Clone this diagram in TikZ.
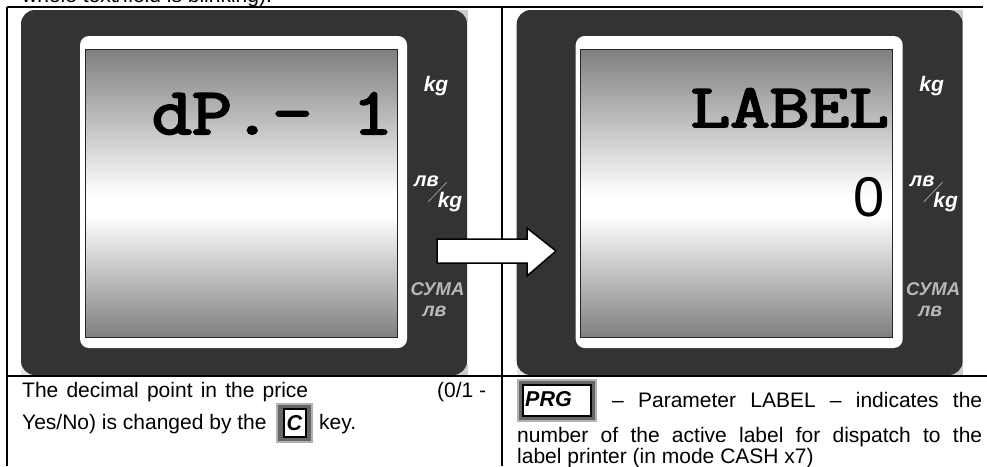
\documentclass[tikz,border=0pt]{standalone}
\usepackage{fontspec}
\setmainfont{Liberation Sans}
\newfontfamily\lcdfont[FakeBold=3]{Latin Modern Mono}
\tikzset{
  x=1pt,y=-1pt,
  rule/.style={line width=2pt,black},
  panel/.style={fill=black!80,rounded corners=14pt},
  bezel/.style={fill=white,rounded corners=9pt},
  lcdframe/.style={draw=black!85,line width=1pt},
  unit/.style={text=white,font=\fontsize{21}{21}\selectfont\bfseries\itshape,inner sep=0pt},
  dimunit/.style={text=black!28,font=\fontsize{18.5}{18.5}\selectfont\bfseries\itshape,inner sep=0pt},
  body/.style={anchor=base west,inner sep=0pt,font=\fontsize{21}{21}\selectfont},
  keycap/.style={anchor=center,inner sep=0pt,font=\fontsize{21.5}{21.5}\selectfont\bfseries\itshape},
  lcdtext/.style={anchor=base east,inner sep=0pt},
  flow/.style={fill=white,draw=black,line width=1.5pt,line join=miter}
}
\newcommand{\scalepanel}[1]{%
  \begin{scope}[shift={(#1,0)}]
    \fill[black!20] (456,10) rectangle (467.5,22);
    \fill[black!20] (456,364) rectangle (467.5,375.5);
    \fill[black!10] (21,364) rectangle (32,375.5);
    \fill[panel] (21,10) rectangle (467,375);
    \fill[bezel] (80,36) rectangle (407,348);
    \shade[top color=black!50,bottom color=white] (85,49) rectangle (397,195);
    \fill[white] (85,195) rectangle (397,215);
    \shade[top color=white,bottom color=black!50] (85,215) rectangle (397,337);
    \draw[lcdframe] (85,49) rectangle (397,337);
    \node[unit] at (436,86) {kg};
    \node[unit,font=\fontsize{20}{20}\selectfont\bfseries\itshape] at (426.5,181) {лв};
    \node[unit] at (450,202) {kg};
    \draw[white!70!black,line width=.6pt] (428,202) -- (447,182);
    \node[dimunit] at (437.5,289) {СУМА};
    \node[dimunit,font=\fontsize{19.5}{19.5}\selectfont\bfseries\itshape] at (434.5,311) {лв};
  \end{scope}}
\begin{document}
\begin{tikzpicture}
\useasboundingbox (0,0) rectangle (987,466);
\fill[white] (0,0) rectangle (987,466);
\scalepanel{0}
\scalepanel{495.7}
\node[body] (top) at (22,2) {whole text/field is blinking).};
\draw[rule] (7,7) -- (983,7);
\draw[rule] (7,376) -- (987,376);
\draw[rule] (7,7) -- (7,466);
\draw[rule] (502,7) -- (502,466);
\node[lcdtext] (dp) at (393,134) {\scalebox{1}[.85]{\fontsize{78}{78}\lcdfont dP.- 1}};
\node[lcdtext] (lab) at (889,127) {\scalebox{1}[.8]{\fontsize{77}{77}\lcdfont LABEL}};
\node[anchor=base east,inner sep=0pt,font=\fontsize{56}{56}\selectfont] (zero) at (885,216) {0};
\path[flow] (437,239) -- (527,239) -- (527,228) -- (556,251) -- (527,276) -- (527,263) -- (437,263) -- cycle;
\node[body] (l1) at (22,397) {\makebox[286pt][s]{The decimal point in the price}};
\node[body] (l1b) at (437,397) {(0/1 -};
\node[body] (l2) at (22,429) {Yes/No) is changed by the};
\fill[black!30] (276,403) rectangle (313,443);
\fill[black!60] (278,405) rectangle (311,441);
\fill[black] (282.5,408) rectangle (307,437.5);
\fill[white] (284.5,410) rectangle (305,435.5);
\node[keycap] (keyc) at (294.5,423) {C};
\node[body] (l2b) at (319,429) {key.};
\fill[black!30] (517,379) rectangle (597,422);
\fill[black!60] (519,381) rectangle (595,420);
\fill[black] (522,384) rectangle (592,416.5);
\fill[white] (524,386) rectangle (590,414.5);
\node[keycap,anchor=base west] (keyp) at (525,406.5) {PRG};
\node[body] (r1) at (612,407.5) {\makebox[370pt][s]{– Parameter LABEL – indicates the}};
\node[body] (r2) at (517,442) {\makebox[465pt][s]{number of the active label for dispatch to the}};
\node[body] (r3) at (517,463) {label printer (in mode CASH x7)};
\end{tikzpicture}
\end{document}
